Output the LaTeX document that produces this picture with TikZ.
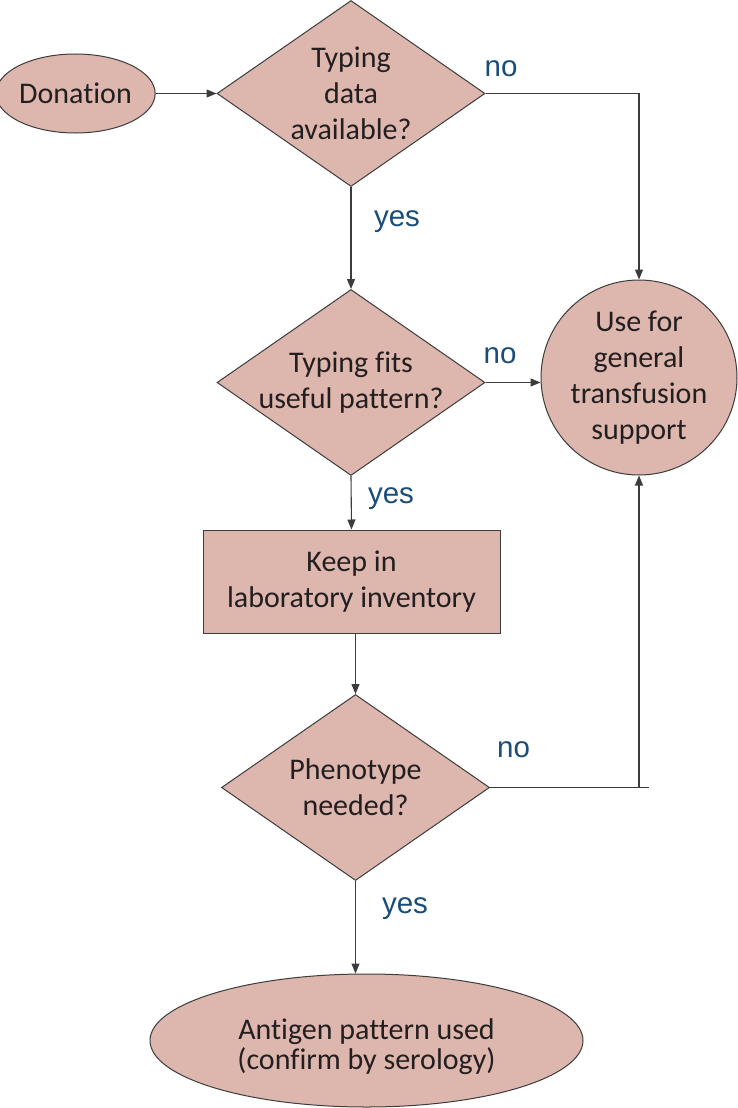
\documentclass[tikz,border=0pt]{standalone}
\usepackage{fontspec}
\setmainfont{Carlito}[Ligatures=NoCommon]
\newfontfamily\lblfont{Liberation Sans}
\usetikzlibrary{shapes.geometric,arrows.meta}
\definecolor{boxfill}{RGB}{221,183,174}
\definecolor{edgecol}{RGB}{60,60,60}
\definecolor{lblcol}{RGB}{26,78,122}
\definecolor{txtcol}{RGB}{35,31,32}
\begin{document}
\begin{tikzpicture}[x=1pt,y=-1pt,
  font=\fontsize{30}{36}\selectfont, text=txtcol,
  shapebase/.style={draw=edgecol, fill=boxfill, line width=1pt, inner sep=0pt},
  decision/.style={shapebase, diamond, minimum width=268pt, minimum height=186pt},
  conn/.style={draw=edgecol, line width=1.1pt},
  arr/.style={conn, -{Triangle[length=10pt,width=8pt]}},
  lbl/.style={font=\lblfont\fontsize{29.5}{32}\selectfont, text=lblcol, inner sep=0pt, anchor=base}]
\useasboundingbox (0,0) rectangle (738,1108);
\fill[white] (0,0) rectangle (738,1108);

\node[shapebase, ellipse, minimum width=149pt, minimum height=79pt] (don) at (75.5,93.5) {Donation};
\node[decision, label={[align=center]center:{Typing\\data\\available?}}] (d1) at (351,93.5) {};
\node[shapebase, ellipse, minimum width=196pt, minimum height=195pt, align=center] (gen) at (639,377.5) {Use for\\general\\transfusion\\support};
\node[decision, label={[align=center]center:{Typing fits\\useful pattern?}}] (d2) at (351,382.5) {};
\node[shapebase, rectangle, minimum width=297pt, minimum height=103pt, align=center] (keep) at (351.5,581.5) {Keep in\\laboratory inventory};
\node[decision, label={[align=center]center:{Phenotype\\needed?}}] (d3) at (355.5,787.5) {};
\node[shapebase, ellipse, minimum width=433pt, minimum height=133pt,
  label={[align=center, font=\fontsize{30}{30}\selectfont, yshift=-6pt]center:{Antigen pattern used\\(confirm by serology)}}] (ant) at (366.5,1040.5) {};

\coordinate (stub) at (649,787.5);

\draw[arr] (don.east) -- (d1.west);
\draw[arr] (d1.east) -| (gen.north);
\draw[arr] (d1.south) -- (d2.north);
\draw[arr] (d2.east) -- (d2.east -| gen.west);
\draw[arr] (d2.south) -- (keep.north);
\draw[arr] (keep.south -| d3.north) -- (d3.north);
\draw[conn] (d3.east) -- (stub);
\draw[arr] (d3.east -| gen.south) -- (gen.south);
\draw[arr] (d3.south) -- (d3.south |- ant.north);

\node[lbl] (no1) at (501,77) {no};
\node[lbl] (yes1) at (397,226) {yes};
\node[lbl] (no2) at (500,363) {no};
\node[lbl] (yes2) at (391,503) {yes};
\node[lbl] (no3) at (513.5,757) {no};
\node[lbl] (yes3) at (405,913) {yes};
\end{tikzpicture}
\end{document}
